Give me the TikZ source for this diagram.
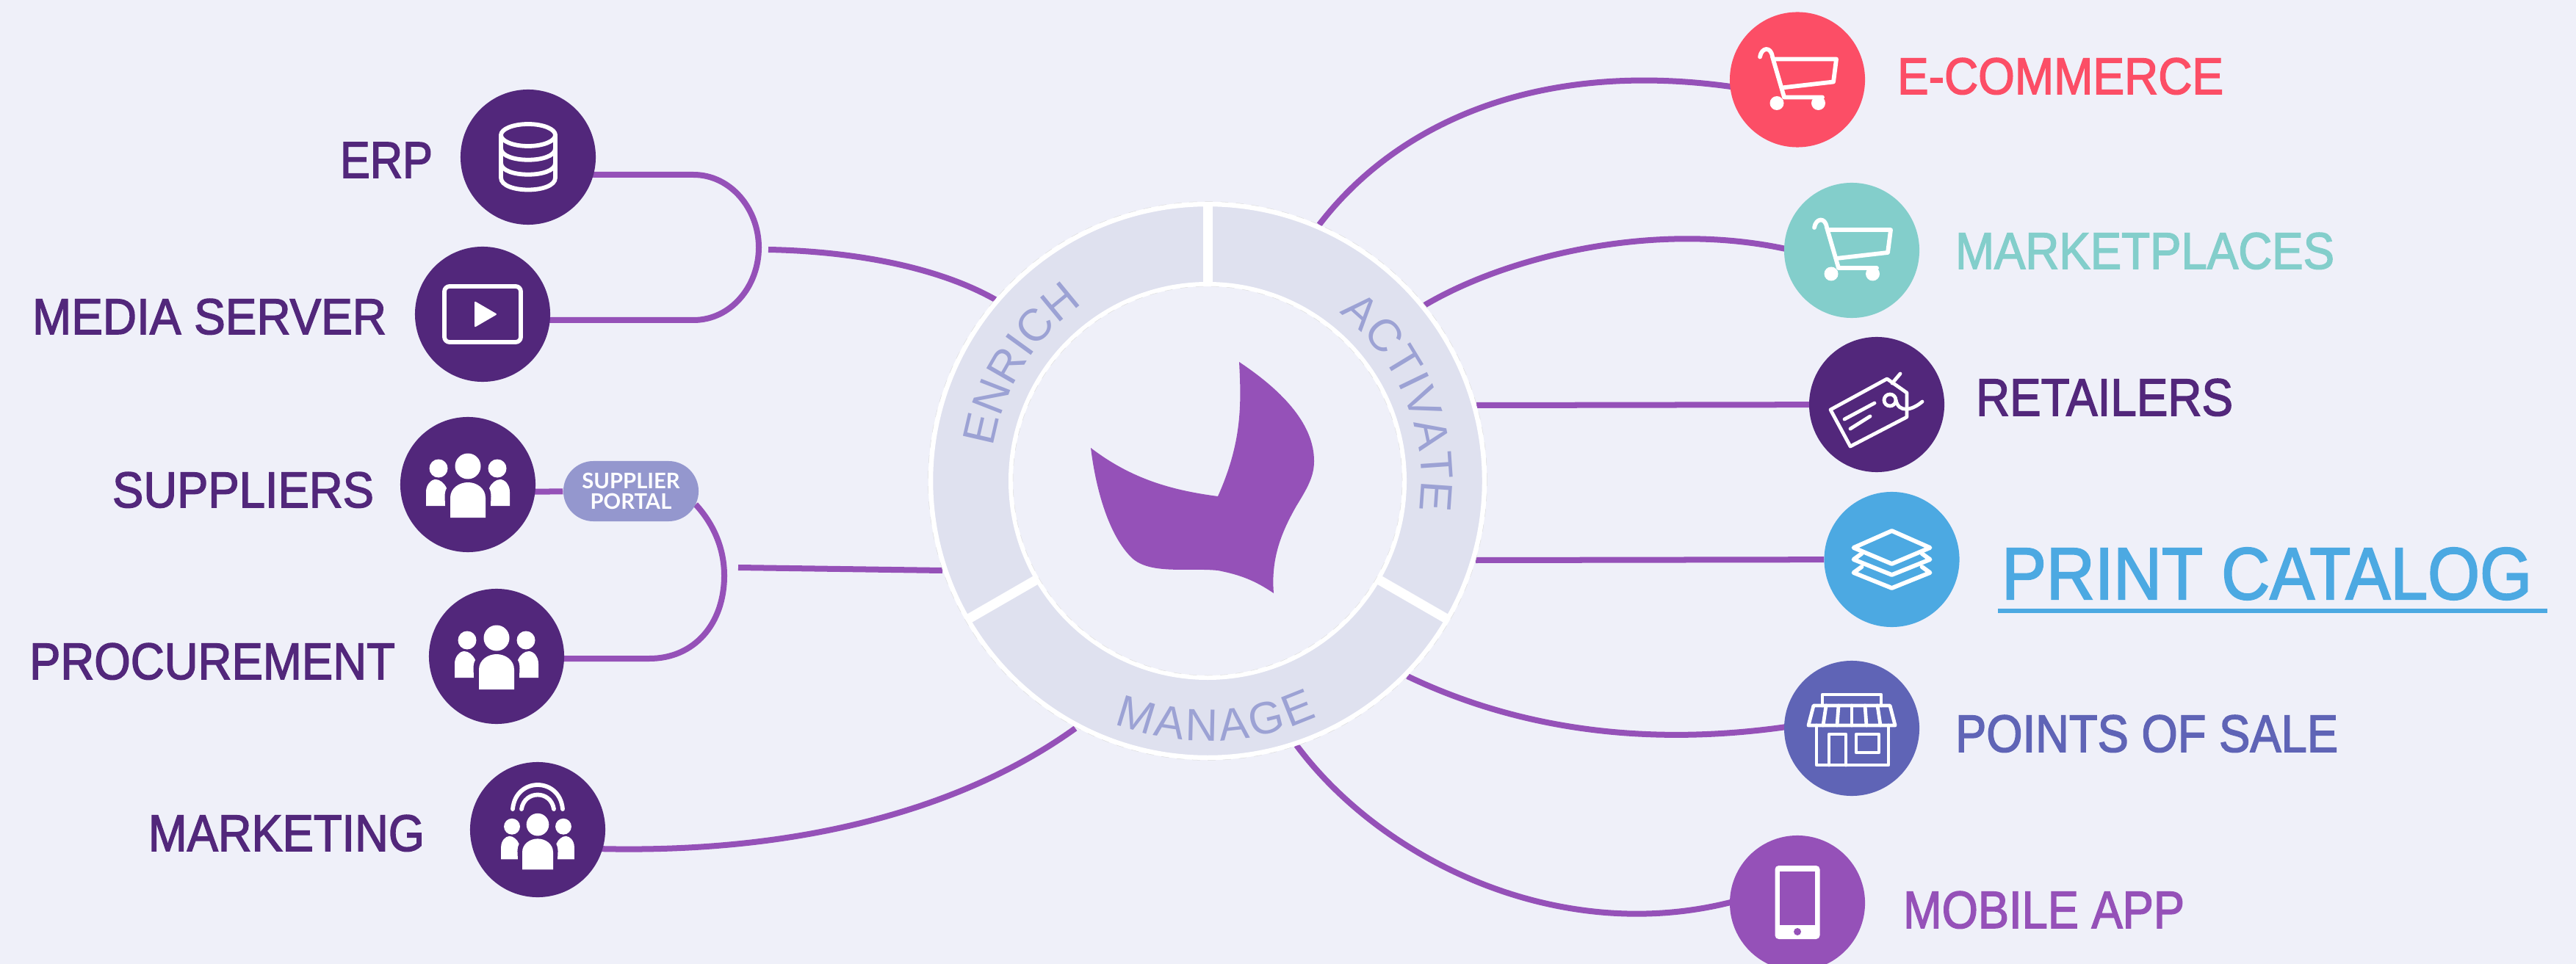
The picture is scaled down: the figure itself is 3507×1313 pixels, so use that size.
\documentclass[tikz,border=0pt]{standalone}
\usepackage{fontspec}
\usepackage{graphicx}
\setmainfont{Liberation Sans}
\newfontfamily\latofont{Lato}
\newfontfamily\labfont[FakeBold=2.2]{Liberation Sans}
\usetikzlibrary{calc,backgrounds,decorations.text}
\definecolor{bgc}{HTML}{EFF0F9}
\definecolor{ringc}{HTML}{DFE1EF}
\definecolor{ringtext}{HTML}{9CA2D4}
\definecolor{deep}{HTML}{52277B}
\definecolor{violet}{HTML}{9551B8}
\definecolor{redc}{HTML}{FC4E66}
\definecolor{tealc}{HTML}{83CECB}
\definecolor{bluec}{HTML}{4CA9E2}
\definecolor{indigoc}{HTML}{5F64B6}
\definecolor{pillc}{HTML}{9497CE}
\newlength\pxu
\setlength\pxu{.01cm}
\newcommand\fitlabel[3]{\resizebox{#1\pxu}{#2\pxu}{\labfont #3}}
\tikzset{
  dot/.style={circle,minimum size=1.84cm,inner sep=0pt,outer sep=0pt,draw=none},
  lab/.style={anchor=base west,inner sep=0pt,outer sep=0pt},
  conn/.style={draw=violet,line width=.8mm},
  icon/.style={draw=white,line width=.58mm,line join=round,line cap=round,fill=none},
  thinicon/.style={draw=white,line width=.48mm,line join=round,line cap=round,fill=none},
}
\newcommand\peopleglyph{%
  \fill[white] (0,-25) circle (17.5);
  \fill[white] (-40,-22) circle (12.5);
  \fill[white] (40,-22) circle (12.5);
  \fill[white] (-24,45) -- (-24,18) .. controls (-24,5) and (-12,-3) .. (0,-3)
     .. controls (12,-3) and (24,5) .. (24,18) -- (24,45) -- cycle;
  \fill[white] (-57,29) -- (-57,10) .. controls (-57,0) and (-50,-7) .. (-44,-7)
     .. controls (-38,-7) and (-32,-2) .. (-29,5) .. controls (-33,12) and (-31,20) .. (-31,29) -- cycle;
  \fill[white] (57,29) -- (57,10) .. controls (57,0) and (50,-7) .. (44,-7)
     .. controls (38,-7) and (32,-2) .. (29,5) .. controls (33,12) and (31,20) .. (31,29) -- cycle;
}
\newcommand\cartglyph{%
  \draw[icon] (-51,-31) .. controls (-49,-44) and (-36,-46) .. (-34,-31) -- (-18,24) -- (34,24);
  \draw[icon] (-31,-28) -- (53,-28) -- (49,3) -- (-21,11);
  \fill[white] (-28,32) circle (9.5);
  \fill[white] (28.5,32) circle (9.5);
}
\begin{document}
\begin{tikzpicture}[x=.01cm,y=-.01cm]
\useasboundingbox (0,0) rectangle (3507,1313);

% ---- icon discs
\node[dot,fill=deep] (erp) at (719,214) {};
\node[dot,fill=deep] (media) at (657,428) {};
\node[dot,fill=deep] (suppliers) at (637,660) {};
\node[dot,fill=deep] (procurement) at (676,894) {};
\node[dot,fill=deep] (marketing) at (732,1130) {};
\node[dot,fill=redc] (ecommerce) at (2447,108.5) {};
\node[dot,fill=tealc] (marketplaces) at (2521,341) {};
\node[dot,fill=deep] (retailers) at (2555,551) {};
\node[dot,fill=bluec] (print) at (2575.5,762) {};
\node[dot,fill=indigoc] (pos) at (2521,992) {};
\node[dot,fill=violet] (mobile) at (2447,1230) {};
\node[rectangle,rounded corners=.41cm,minimum width=1.84cm,minimum height=.82cm,inner sep=0pt,fill=pillc,
      text=white,align=center,font=\latofont\bfseries\fontsize{8.3}{8}\selectfont] (pill) at (859,669) {SUPPLIER\\PORTAL};

% ---- free ends of connectors
\coordinate (c) at (1644,655);
\coordinate (jleftA) at (1046,340);
\coordinate (ringA) at (1355,408);
\coordinate (jleftB) at (1005,773);
\coordinate (ringB) at (1283,777);
\coordinate (ringC) at (1464,992);
\coordinate (ringD) at (1796,306);
\coordinate (ringE) at (1939,416);
\coordinate (ringF) at (2010,552);
\coordinate (ringG) at (2009,763);
\coordinate (ringH) at (1916,921);
\coordinate (ringI) at (1765,1015);
\coordinate (ulA) at (2720,832);
\coordinate (ulB) at (3468,832);

\begin{pgfonlayer}{background}
  \fill[bgc] (0,0) rectangle (3507,1313);
  \draw[conn] ($(erp)+(0,24)$) -- (944,238) .. controls (995,238) and (1033,285) .. (1033,337)
     .. controls (1033,390) and (995,436) .. (944,436) -- ($(media)+(0,8)$);
  \draw[conn] (jleftA) .. controls (1150,342) and (1270,360) .. (ringA);
  \draw[conn] ($(suppliers)+(0,10)$) -- (pill);
  \draw[conn] ($(procurement)+(0,3)$) -- (884,897) .. controls (945,897) and (986,850) .. (986,784)
     .. controls (986,745) and (970,712) .. ($(pill)+(88,18)$);
  \draw[conn] (jleftB) -- (ringB);
  \draw[conn] ($(marketing)+(0,22)$) .. controls (1050,1175) and (1300,1110) .. (ringC);
  \draw[conn] (ringD) .. controls (1900,170) and (2090,80) .. ($(ecommerce)+(-87,10)$);
  \draw[conn] (ringE) .. controls (2050,350) and (2250,300) .. ($(marketplaces)+(-90,-2)$);
  \draw[conn] (ringF) -- (retailers);
  \draw[conn] (ringG) -- (print);
  \draw[conn] (ringH) .. controls (2050,985) and (2220,1020) .. ($(pos)+(-89,-2)$);
  \draw[conn] (ringI) .. controls (1880,1170) and (2120,1290) .. ($(mobile)+(-87,-2)$);
\end{pgfonlayer}

% ---- central ring
\begin{scope}[shift={(c)},x=.01cm,y=.01cm]
  \fill[ringc] (0,0) circle (375);
  \draw[white,line width=.65mm] (0,0) circle (377);
  \fill[bgc] (0,0) circle (268);
  \draw[white,line width=.6mm] (0,0) circle (268);
  \draw[gray!25,line width=.05mm,dashed] (0,0) circle (380.5);
  \draw[gray!25,line width=.05mm,dashed] (0,0) circle (265);
  \draw[white,line width=1.3mm] (90:268) -- (90:378);
  \draw[white,line width=1.3mm] (210:268) -- (210:378);
  \draw[white,line width=1.3mm] (330:268) -- (330:378);
  \path[decorate,decoration={text along path,text align={fit to path},
        text={|\fontsize{17.5}{17.5}\selectfont\color{ringtext}|ENRICH}}]
     (171:295) arc (171:126:295);
  \path[decorate,decoration={text along path,text align={fit to path},
        text={|\fontsize{17.5}{17.5}\selectfont\color{ringtext}|ACTIVATE}}]
     (52:291) arc (52:-8:291);
  \path[decorate,decoration={text along path,text align={fit to path},
        text={|\fontsize{17.5}{17.5}\selectfont\color{ringtext}|MANAGE}}]
     (249:354) arc (249:295:354);
\end{scope}

% ---- central mark
\fill[violet] (1687,493) .. controls (1690,551) and (1691,602) .. (1658,676)
  .. controls (1597,668) and (1541,653) .. (1485,610)
  .. controls (1492,668) and (1510,730) .. (1541,760)
  .. controls (1566,783) and (1617,773) .. (1658,777)
  .. controls (1689,783) and (1709,791) .. (1734,808)
  .. controls (1730,760) and (1745,724) .. (1765,689)
  .. controls (1781,663) and (1789,648) .. (1789,628)
  .. controls (1789,580) and (1750,535) .. (1687,493) -- cycle;

% ---- labels
\node[lab,text=deep] (lerp) at (463,242) {\fitlabel{126}{48}{ERP}};
\node[lab,text=deep] (lmedia) at (44,455) {\fitlabel{482}{48}{MEDIA SERVER}};
\node[lab,text=deep] (lsuppliers) at (153,691) {\fitlabel{356}{48}{SUPPLIERS}};
\node[lab,text=deep] (lprocurement) at (40,925) {\fitlabel{498}{49}{PROCUREMENT}};
\node[lab,text=deep] (lmarketing) at (202,1159) {\fitlabel{376}{49}{MARKETING}};
\node[lab,text=redc] (lecommerce) at (2583,128) {\fitlabel{444}{49}{E-COMMERCE}};
\node[lab,text=tealc] (lmarketplaces) at (2662,366) {\fitlabel{516}{49}{MARKETPLACES}};
\node[lab,text=deep] (lretailers) at (2690,566) {\fitlabel{350}{50}{RETAILERS}};
\node[lab,text=bluec] (lprint) at (2725,816) {\fitlabel{722}{70}{PRINT CATALOG}};
\node[lab,text=indigoc] (lpos) at (2662,1024) {\fitlabel{521}{50}{POINTS OF SALE}};
\node[lab,text=violet] (lmobile) at (2591,1264) {\fitlabel{383}{50}{MOBILE APP}};
\draw[bluec,line width=.65mm] (ulA) -- (ulB);

% ---- icon: database
\begin{scope}[shift={(erp.center)}]
  \draw[icon] (0,-30) ellipse (37 and 15);
  \draw[icon] (-37,-30) -- (-37,28) .. controls (-37,50) and (37,50) .. (37,28) -- (37,-30);
  \draw[icon] (-37,-12) .. controls (-37,9) and (37,9) .. (37,-12);
  \draw[icon] (-37,8) .. controls (-37,29) and (37,29) .. (37,8);
\end{scope}
% ---- icon: video
\begin{scope}[shift={(media.center)}]
  \draw[icon,rounded corners=.07cm] (-52,-38) rectangle (52,38);
  \fill[white,rounded corners=.02cm] (-11,-18) -- (20,0) -- (-11,18) -- cycle;
\end{scope}
% ---- icon: people
\begin{scope}[shift={(suppliers.center)}]
  \peopleglyph
\end{scope}
\begin{scope}[shift={(procurement.center)}]
  \peopleglyph
\end{scope}
\begin{scope}[shift={(marketing.center)}]
  \begin{scope}[shift={(0,15)},x=.00875cm,y=-.00875cm]
    \peopleglyph
  \end{scope}
  \draw[icon] (-34,-28) .. controls (-30,-72) and (30,-72) .. (34,-28);
  \draw[icon] (-22,-28) .. controls (-18,-54) and (18,-54) .. (22,-28);
\end{scope}
% ---- icon: carts
\begin{scope}[shift={(ecommerce.center)}]
  \cartglyph
\end{scope}
\begin{scope}[shift={(marketplaces.center)}]
  \cartglyph
\end{scope}
% ---- icon: tag
\begin{scope}[shift={(retailers.center)}]
  \draw[thinicon] (14,-35) -- (-63,7) -- (-36,57) -- (41,17) -- (41,-16) -- cycle;
  \draw[thinicon] (-44,20) -- (-3,-2);
  \draw[thinicon] (-36,33) -- (-9,16);
  \draw[thinicon] (18,-6) circle (8);
  \draw[thinicon] (21,-29) -- (32,-42);
  \draw[thinicon] (26,-6) .. controls (30,12) and (48,8) .. (62,-4);
\end{scope}
% ---- icon: layers
\begin{scope}[shift={(print.center)}]
  \draw[icon] (0,-39) -- (52,-16) -- (0,6) -- (-52,-16) -- cycle;
  \draw[icon] (-41,-8) -- (-52,0) -- (0,21) -- (52,0) -- (41,-8);
  \draw[icon] (-41,10) -- (-52,18) -- (0,39) -- (52,18) -- (41,10);
\end{scope}
% ---- icon: store
\begin{scope}[shift={(pos.center)}]
  \draw[thinicon] (-40,-31) -- (-40,-46) -- (40,-46) -- (40,-31);
  \draw[thinicon] (-52,-31) -- (52,-31) -- (59,-4) -- (-59,-4) -- cycle;
  \draw[thinicon] (-35,-31) -- (-39,-4);
  \draw[thinicon] (-18,-31) -- (-20,-4);
  \draw[thinicon] (0,-31) -- (0,-4);
  \draw[thinicon] (18,-31) -- (20,-4);
  \draw[thinicon] (35,-31) -- (39,-4);
  \draw[thinicon] (-48,-4) -- (-48,50) -- (50,50) -- (50,-4);
  \draw[thinicon] (-31,50) -- (-31,8) -- (-8,8) -- (-8,50);
  \draw[thinicon] (6,8) rectangle (37,33);
\end{scope}
% ---- icon: phone
\begin{scope}[shift={(mobile.center)}]
  \fill[white,rounded corners=.05cm] (-30.5,-51) rectangle (30.5,49);
  \fill[violet] (-24,-43) rectangle (24,30);
  \fill[violet] (0,39) circle (5);
\end{scope}
\end{tikzpicture}
\end{document}
